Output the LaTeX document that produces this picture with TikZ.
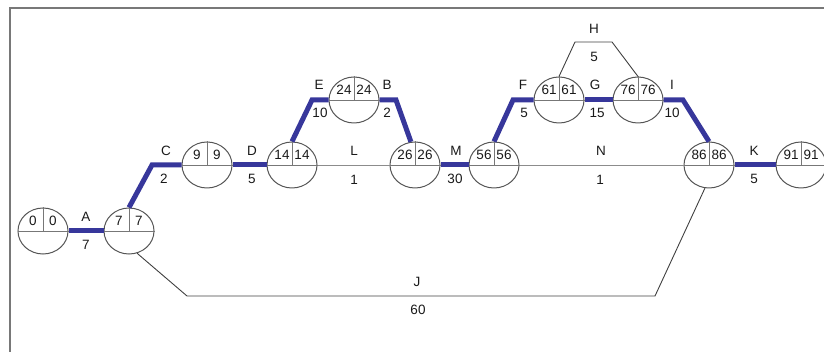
\documentclass[tikz,border=0pt]{standalone}
\usepackage{fontspec}
\setmainfont{Liberation Sans}
\usetikzlibrary{shapes.geometric}
\definecolor{critblue}{RGB}{55,55,155}
\definecolor{rimgray}{RGB}{85,85,85}
\definecolor{framegray}{RGB}{120,120,120}
\tikzset{
  event/.style={ellipse, draw=rimgray, line width=1pt, minimum width=50pt,
                minimum height=46pt, inner sep=0pt},
  split/.style={draw=rimgray!80, line width=0.8pt},
  evnum/.style={font=\fontsize{13.5}{15}\selectfont, text=black!90, inner sep=0pt},
  lab/.style={font=\fontsize{13.5}{15}\selectfont, text=black!90, inner sep=0pt},
  crit/.style={draw=critblue, line width=5pt},
  slack/.style={draw=gray!90, line width=0.9pt},
  link/.style={draw=black!75, line width=0.9pt},
  frame/.style={draw=framegray, line width=1.5pt}
}
% event circle: name, x, y, earliest, latest
\newcommand{\evnode}[5]{%
  \node[event] (#1) at (#2,#3) {};
  \draw[split] (#1.west) -- (#1.east) (#1.north) -- (#1.center);
  \path (#1.center) ++(-10,-10) node[evnum] {#4} ++(20,0) node[evnum] {#5};
}
\begin{document}
\begin{tikzpicture}[x=1pt,y=-1pt]
\useasboundingbox (0,0) rectangle (824,352);
\draw[frame] (10,352) -- (10,8) -- (824,8);

% events
\evnode{e0}{43}{231}{0}{0}
\evnode{e7}{129}{231}{7}{7}
\evnode{e9}{207}{165}{9}{9}
\evnode{e14}{292}{165}{14}{14}
\evnode{e24}{354}{100}{24}{24}
\evnode{e26}{415}{165}{26}{26}
\evnode{e56}{494}{165}{56}{56}
\evnode{e61}{559}{100}{61}{61}
\evnode{e76}{638}{100}{76}{76}
\evnode{e86}{709}{165}{86}{86}
\evnode{e91}{801}{165}{91}{91}

% bend points
\coordinate (bC) at (152,165);
\coordinate (bE) at (312,100);
\coordinate (bB) at (396,100);
\coordinate (bF) at (513,100);
\coordinate (bI) at (683,100);
\coordinate (hL) at (575,42);
\coordinate (hR) at (612,42);
\coordinate (jL) at (187,296);
\coordinate (jR) at (655,296);

% critical path
\draw[crit] (e0.east) -- (e7.west);
\draw[crit] (e7.north) -- (bC) -- (e9.west);
\draw[crit] (e9.east) -- (e14.west);
\draw[crit] (e14.north) -- (bE) -- (e24.west);
\draw[crit] (e24.east) -- (bB) -- (e26.100);
\draw[crit] (e26.east) -- (e56.west);
\draw[crit] (e56.north) -- (bF) -- (e61.west);
\draw[crit] (e61.east) -- (e76.west);
\draw[crit] (e76.east) -- (bI) -- (e86.north);
\draw[crit] (e86.east) -- (e91.west);

% other activities
\draw[slack] (e14.east) -- (e26.west);
\draw[slack] (e56.east) -- (e86.west);
\draw[link] (e61.north) -- (hL) -- (hR) -- (e76.north);
\draw[link] (e7.-70) -- (jL) -- (jR) -- (e86.-100);

% activity names and durations
\node[lab] (tA) at (86,217) {A};   \node[lab] (dA) at (86,245) {7};
\node[lab] (tC) at (166,151) {C};  \node[lab] (dC) at (164,179) {2};
\node[lab] (tD) at (252,151) {D};  \node[lab] (dD) at (252,179) {5};
\node[lab] (tE) at (319,85) {E};   \node[lab] (dE) at (320,113) {10};
\node[lab] (tB) at (387,85) {B};   \node[lab] (dB) at (387,113) {2};
\node[lab] (tL) at (354,151) {L};  \node[lab] (dL) at (354,180) {1};
\node[lab] (tM) at (456,151) {M};  \node[lab] (dM) at (455,179) {30};
\node[lab] (tF) at (523,85) {F};   \node[lab] (dF) at (524,113) {5};
\node[lab] (tG) at (595,85) {G};   \node[lab] (dG) at (597,113) {15};
\node[lab] (tH) at (594,29) {H};   \node[lab] (dH) at (594,57) {5};
\node[lab] (tI) at (672,85) {I};   \node[lab] (dI) at (672,113) {10};
\node[lab] (tN) at (601,151) {N};  \node[lab] (dN) at (600,180) {1};
\node[lab] (tK) at (754,151) {K};  \node[lab] (dK) at (754,179) {5};
\node[lab] (tJ) at (417,282) {J};  \node[lab] (dJ) at (418,310) {60};
\end{tikzpicture}
\end{document}
